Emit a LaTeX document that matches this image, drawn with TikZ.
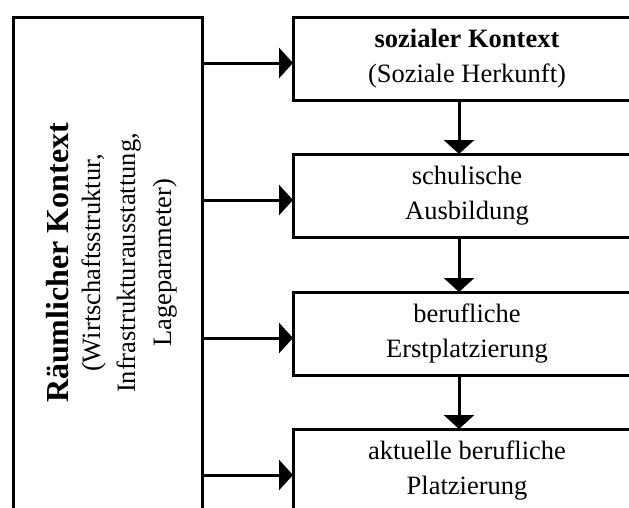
\documentclass[tikz,border=0pt]{standalone}
\usepackage{fontspec}
\setmainfont{Liberation Serif}
\usetikzlibrary{arrows.meta}
\begin{document}
\begin{tikzpicture}[x=1pt,y=-1pt,
  box/.style={draw, line width=3pt, outer sep=0pt, inner sep=0pt,
    minimum width=348pt, minimum height=83pt, anchor=north west,
    font=\fontsize{26.5}{35}\selectfont, align=center},
  arr/.style={line width=3pt, -{Triangle[length=14pt,width=30pt]}},
  vtxt/.style={rotate=90, anchor=base, inner sep=0pt,
    font=\fontsize{26.5}{35}\selectfont}]
\path[use as bounding box] (0,0) rectangle (629,507);
\clip (0,0) rectangle (629,507);
\fill[white] (0,0) rectangle (629,507);
% left box
\node[draw, line width=3pt, outer sep=0pt, inner sep=0pt,
  minimum width=189pt, minimum height=560pt, anchor=north west] (L) at (13,17) {};
\node[vtxt, font=\fontsize{32}{38}\selectfont\bfseries] (t0) at (68,263) {Räumlicher Kontext};
\node[vtxt] (t1) at (100,263) {(Wirtschaftsstruktur,};
\node[vtxt] (t2) at (135,263) {Infrastrukturausstattung,};
\node[vtxt] (t3) at (171,263) {Lageparameter)};
% right boxes
\node[box] (b1) at (293,17) {\textbf{sozialer Kontext}\\(Soziale Herkunft)};
\node[box] (b2) at (293,154) {schulische\\Ausbildung};
\node[box] (b3) at (293,292) {berufliche\\Erstplatzierung};
\node[box] (b4) at (293,429) {aktuelle berufliche\\Platzierung};
% horizontal arrows
\foreach \b in {b1,b2,b3,b4}{
  \coordinate (a\b) at ([yshift=-4.5pt]\b.west);
  \draw[arr] (a\b -| L.east) -- (a\b);
}
% vertical arrows
\draw[arr] ([xshift=-8pt]b1.south) -- ([xshift=-8pt]b2.north);
\draw[arr] ([xshift=-8pt]b2.south) -- ([xshift=-8pt]b3.north);
\draw[arr] ([xshift=-8pt]b3.south) -- ([xshift=-8pt]b4.north);
\end{tikzpicture}
\end{document}
